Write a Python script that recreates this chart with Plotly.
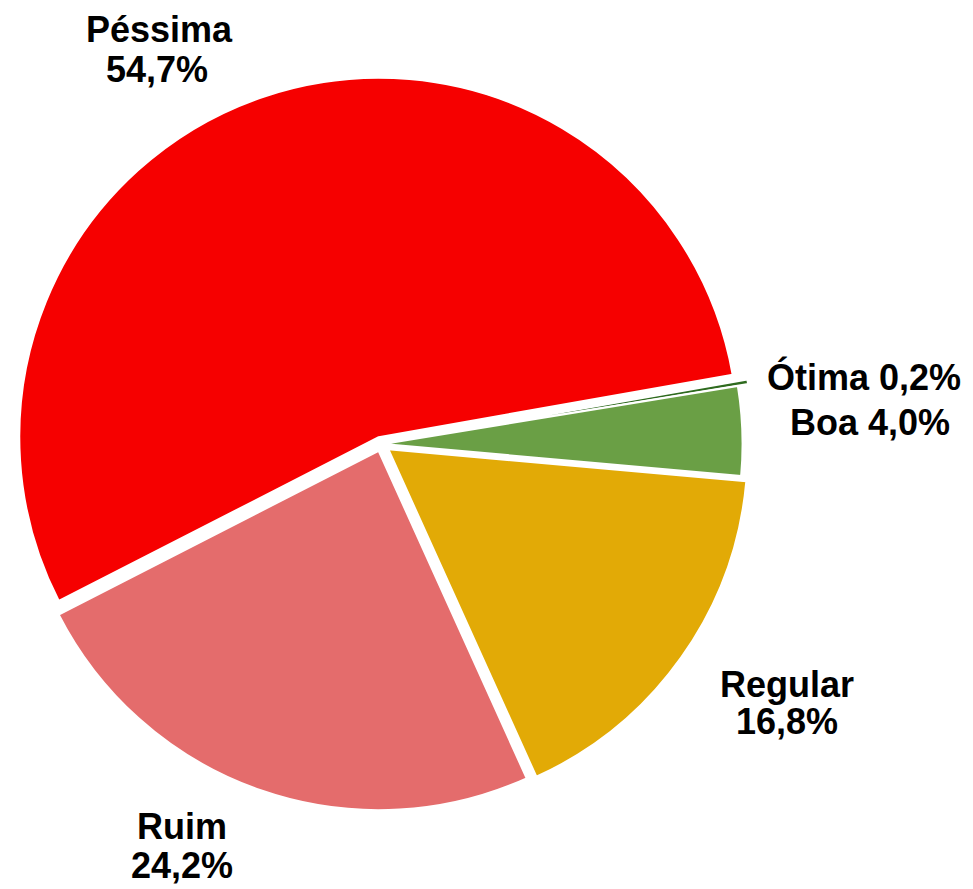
import plotly.graph_objects as go

# Avaliação: categorias e percentuais
categories = ["Ótima", "Boa", "Regular", "Ruim", "Péssima"]
values = [0.2, 4.0, 16.8, 24.2, 54.7]
colors = ["#2E6A1E", "#6A9F45", "#E2AA06", "#E46C6C", "#F60000"]
pulls = [0.035, 0.006, 0.025, 0.02, 0.02]

W, H = 973, 889


def fmt(v):
    return f"{v:.1f}%".replace(".", ",")


fig = go.Figure(
    go.Pie(
        labels=categories,
        values=values,
        sort=False,
        direction="clockwise",
        rotation=80,
        pull=pulls,
        marker=dict(colors=colors, line=dict(color="white", width=2)),
        textinfo="none",
        hoverinfo="label+percent",
        showlegend=False,
        domain=dict(x=[9 / W, 753 / W], y=[1 - 816 / H, 1 - 72 / H]),
    )
)

# Rótulos externos: (linhas de texto, centro x, meio de cada linha y) em pixels
label_lines = {
    "Péssima": ([categories[4], fmt(values[4])], [159, 157], [29, 70]),
    "Ótima/Boa": (
        [f"{categories[0]} {fmt(values[0])}", f"{categories[1]} {fmt(values[1])}"],
        [864, 870],
        [377, 422],
    ),
    "Regular": ([categories[2], fmt(values[2])], [787, 787], [684, 721]),
    "Ruim": ([categories[3], fmt(values[3])], [182, 182], [826, 865]),
}

for lines, xs, ys in label_lines.values():
    for text, x, y in zip(lines, xs, ys):
        fig.add_annotation(
            text=f"<b>{text}</b>",
            x=x / W,
            y=1 - y / H,
            xref="paper",
            yref="paper",
            xanchor="center",
            yanchor="middle",
            showarrow=False,
            font=dict(family="Arial, Liberation Sans, sans-serif", size=36, color="black"),
        )

fig.update_layout(
    width=W,
    height=H,
    margin=dict(l=0, r=0, t=0, b=0),
    paper_bgcolor="white",
    plot_bgcolor="white",
)

fig.write_html("out.html")
